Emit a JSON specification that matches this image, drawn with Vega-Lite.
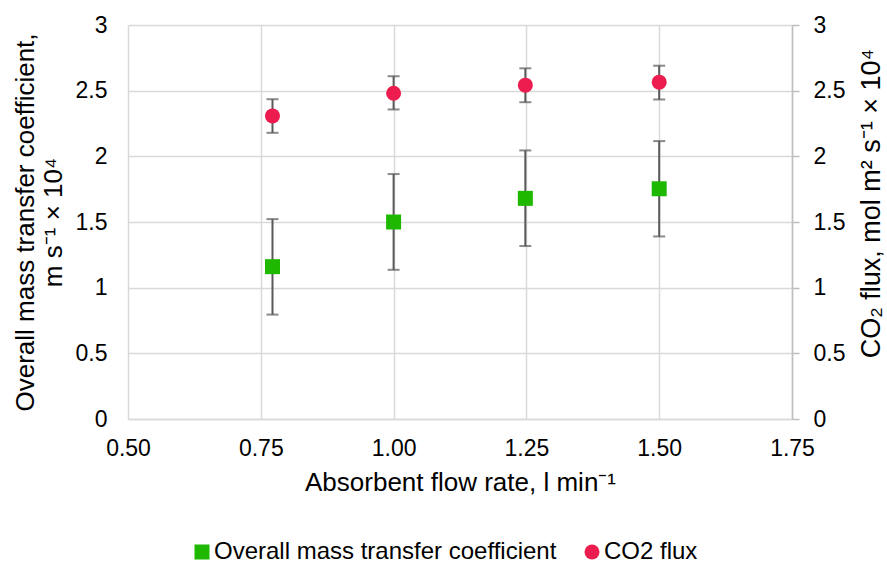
{
  "$schema": "https://vega.github.io/schema/vega-lite/v6.json",
  "width": 664,
  "height": 394,
  "autosize": {"type": "none"},
  "padding": {"left": 128, "top": 25, "right": 95, "bottom": 144},
  "config": {
    "font": "Liberation Sans",
    "view": {"stroke": null},
    "axis": {
      "labelFontSize": 23,
      "titleFontSize": 26,
      "labelColor": "#000000",
      "titleColor": "#000000",
      "titleFontWeight": "normal",
      "gridColor": "#d9d9d9",
      "gridWidth": 1.5,
      "domainColor": "#bfbfbf",
      "tickColor": "#bfbfbf"
    },
    "axisLeft": {
      "domain": false,
      "ticks": false,
      "labelPadding": 21,
      "titleLineHeight": 28,
      "titlePadding": 9
    },
    "axisRight": {
      "grid": false,
      "domain": true,
      "domainColor": "#bfbfbf",
      "domainWidth": 1.5,
      "ticks": true,
      "tickSize": 7,
      "tickWidth": 1.5,
      "labelPadding": 14,
      "titleAngle": 270,
      "titleBaseline": "alphabetic",
      "titleFontSize": 27,
      "titleX": 87,
      "titleY": 178
    },
    "legend": {"labelFontSize": 24, "labelColor": "#000000", "labelLimit": 0}
  },
  "data": {
    "values": [
      {"flow": 0.772, "series": "Overall mass transfer coefficient", "value": 1.16, "lo": 0.795, "hi": 1.522},
      {"flow": 1.0, "series": "Overall mass transfer coefficient", "value": 1.5, "lo": 1.136, "hi": 1.865},
      {"flow": 1.248, "series": "Overall mass transfer coefficient", "value": 1.68, "lo": 1.317, "hi": 2.045},
      {"flow": 1.5, "series": "Overall mass transfer coefficient", "value": 1.753, "lo": 1.39, "hi": 2.116},
      {"flow": 0.772, "series": "CO2 flux", "value": 2.308, "lo": 2.179, "hi": 2.435},
      {"flow": 1.0, "series": "CO2 flux", "value": 2.48, "lo": 2.357, "hi": 2.61},
      {"flow": 1.248, "series": "CO2 flux", "value": 2.542, "lo": 2.412, "hi": 2.67},
      {"flow": 1.5, "series": "CO2 flux", "value": 2.565, "lo": 2.433, "hi": 2.69}
    ]
  },
  "encoding": {
    "x": {
      "field": "flow",
      "type": "quantitative",
      "scale": {"domain": [0.5, 1.75], "nice": false, "zero": false},
      "axis": {
        "values": [0.5, 0.75, 1, 1.25, 1.5, 1.75],
        "format": ".2f",
        "labelFlush": false,
        "title": "Absorbent flow rate, l min⁻¹",
        "ticks": false,
        "domainColor": "#d9d9d9",
        "domainWidth": 1.5,
        "labelPadding": 18,
        "titlePadding": 9
      }
    }
  },
  "layer": [
    {
      "transform": [{"filter": "datum.series === 'Overall mass transfer coefficient'"}],
      "layer": [
        {
          "mark": {"type": "rule", "color": "#595959", "strokeWidth": 2},
          "encoding": {
            "y": {"field": "lo", "type": "quantitative", "scale": {"domain": [0, 3], "nice": false}, "axis": {"orient": "left", "values": [0, 0.5, 1, 1.5, 2, 2.5, 3], "format": "~g", "labelFlush": false, "title": ["Overall mass transfer coefficient,", "m s⁻¹ × 10⁴"]}},
            "y2": {"field": "hi"}
          }
        },
        {
          "mark": {"type": "tick", "orient": "horizontal", "size": 12, "thickness": 2, "color": "#595959"},
          "encoding": {"y": {"field": "lo", "type": "quantitative", "scale": {"domain": [0, 3], "nice": false}, "axis": {"orient": "left", "values": [0, 0.5, 1, 1.5, 2, 2.5, 3], "format": "~g", "labelFlush": false, "title": ["Overall mass transfer coefficient,", "m s⁻¹ × 10⁴"]}}}
        },
        {
          "mark": {"type": "tick", "orient": "horizontal", "size": 12, "thickness": 2, "color": "#595959"},
          "encoding": {"y": {"field": "hi", "type": "quantitative", "scale": {"domain": [0, 3], "nice": false}, "axis": {"orient": "left", "values": [0, 0.5, 1, 1.5, 2, 2.5, 3], "format": "~g", "labelFlush": false, "title": ["Overall mass transfer coefficient,", "m s⁻¹ × 10⁴"]}}}
        },
        {
          "mark": {"type": "point", "filled": true, "opacity": 1, "size": 225},
          "encoding": {
            "y": {"field": "value", "type": "quantitative", "scale": {"domain": [0, 3], "nice": false}, "axis": {"orient": "left", "values": [0, 0.5, 1, 1.5, 2, 2.5, 3], "format": "~g", "labelFlush": false, "title": ["Overall mass transfer coefficient,", "m s⁻¹ × 10⁴"]}},
            "color": {
              "field": "series",
              "type": "nominal",
              "scale": {"domain": ["Overall mass transfer coefficient", "CO2 flux"], "range": ["#1FB800", "#EC1C4E"]},
              "legend": {"orient": "none", "legendX": 62, "legendY": 515, "direction": "horizontal", "title": null, "symbolSize": 225, "columnPadding": 23, "labelOffset": 0}
            },
            "shape": {
              "field": "series",
              "type": "nominal",
              "scale": {"domain": ["Overall mass transfer coefficient", "CO2 flux"], "range": ["square", "circle"]},
              "legend": {"orient": "none", "legendX": 62, "legendY": 515, "direction": "horizontal", "title": null, "symbolSize": 225, "columnPadding": 23, "labelOffset": 0}
            }
          }
        }
      ]
    },
    {
      "transform": [{"filter": "datum.series === 'CO2 flux'"}],
      "layer": [
        {
          "mark": {"type": "rule", "color": "#595959", "strokeWidth": 2},
          "encoding": {
            "y": {"field": "lo", "type": "quantitative", "scale": {"domain": [0, 3], "nice": false}, "axis": {"orient": "right", "values": [0, 0.5, 1, 1.5, 2, 2.5, 3], "format": "~g", "labelFlush": false, "title": "CO₂ flux, mol m² s⁻¹ × 10⁴"}},
            "y2": {"field": "hi"}
          }
        },
        {
          "mark": {"type": "tick", "orient": "horizontal", "size": 12, "thickness": 2, "color": "#595959"},
          "encoding": {"y": {"field": "lo", "type": "quantitative", "scale": {"domain": [0, 3], "nice": false}, "axis": {"orient": "right", "values": [0, 0.5, 1, 1.5, 2, 2.5, 3], "format": "~g", "labelFlush": false, "title": "CO₂ flux, mol m² s⁻¹ × 10⁴"}}}
        },
        {
          "mark": {"type": "tick", "orient": "horizontal", "size": 12, "thickness": 2, "color": "#595959"},
          "encoding": {"y": {"field": "hi", "type": "quantitative", "scale": {"domain": [0, 3], "nice": false}, "axis": {"orient": "right", "values": [0, 0.5, 1, 1.5, 2, 2.5, 3], "format": "~g", "labelFlush": false, "title": "CO₂ flux, mol m² s⁻¹ × 10⁴"}}}
        },
        {
          "mark": {"type": "point", "filled": true, "opacity": 1, "size": 225},
          "encoding": {
            "y": {"field": "value", "type": "quantitative", "scale": {"domain": [0, 3], "nice": false}, "axis": {"orient": "right", "values": [0, 0.5, 1, 1.5, 2, 2.5, 3], "format": "~g", "labelFlush": false, "title": "CO₂ flux, mol m² s⁻¹ × 10⁴"}},
            "color": {
              "field": "series",
              "type": "nominal",
              "scale": {"domain": ["Overall mass transfer coefficient", "CO2 flux"], "range": ["#1FB800", "#EC1C4E"]},
              "legend": {"orient": "none", "legendX": 62, "legendY": 515, "direction": "horizontal", "title": null, "symbolSize": 225, "columnPadding": 23, "labelOffset": 0}
            },
            "shape": {
              "field": "series",
              "type": "nominal",
              "scale": {"domain": ["Overall mass transfer coefficient", "CO2 flux"], "range": ["square", "circle"]},
              "legend": {"orient": "none", "legendX": 62, "legendY": 515, "direction": "horizontal", "title": null, "symbolSize": 225, "columnPadding": 23, "labelOffset": 0}
            }
          }
        }
      ]
    }
  ],
  "resolve": {"scale": {"y": "independent"}}
}
